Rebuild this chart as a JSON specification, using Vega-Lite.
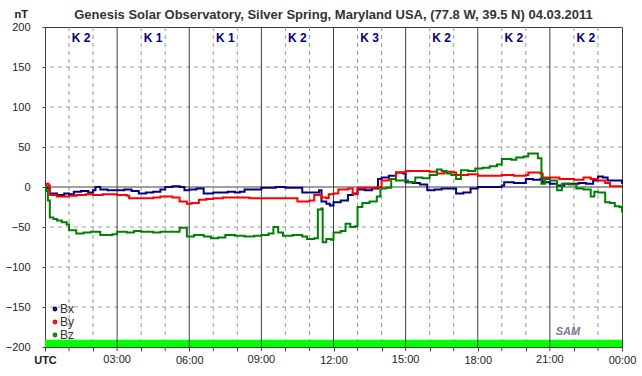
{
  "$schema": "https://vega.github.io/schema/vega-lite/v6.json",
  "width": 577,
  "height": 320,
  "autosize": {"type": "none"},
  "padding": {"left": 45, "top": 27, "right": 20, "bottom": 29},
  "background": "white",
  "config": {
    "font": "Liberation Sans",
    "view": {"stroke": "#404040", "strokeWidth": 1}
  },
  "title": {
    "text": "Genesis Solar Observatory, Silver Spring, Maryland USA, (77.8 W, 39.5 N)  04.03.2011",
    "fontSize": 13,
    "fontWeight": "bold",
    "color": "#333333",
    "anchor": "middle",
    "offset": 0,
    "dy": 14
  },
  "datasets": {
    "series": [
      {"t":0,"c":"Bx","v":0},{"t":0.1,"c":"Bx","v":-2},{"t":0.2,"c":"Bx","v":-8},{"t":0.5,"c":"Bx","v":-10},{"t":0.8,"c":"Bx","v":-8},{"t":1.0,"c":"Bx","v":-9},{"t":1.2,"c":"Bx","v":-6},{"t":1.5,"c":"Bx","v":-5},{"t":1.8,"c":"Bx","v":-7},{"t":2.0,"c":"Bx","v":-4},{"t":2.1,"c":"Bx","v":0},{"t":2.3,"c":"Bx","v":-3},{"t":2.6,"c":"Bx","v":-4},{"t":3.0,"c":"Bx","v":-4},{"t":3.3,"c":"Bx","v":-3},{"t":3.6,"c":"Bx","v":-5},{"t":3.9,"c":"Bx","v":-8},{"t":4.2,"c":"Bx","v":-7},{"t":4.5,"c":"Bx","v":-6},{"t":4.8,"c":"Bx","v":-3},{"t":5.0,"c":"Bx","v":0},{"t":5.3,"c":"Bx","v":1},{"t":5.6,"c":"Bx","v":0},{"t":5.8,"c":"Bx","v":-4},{"t":6.0,"c":"Bx","v":-3},{"t":6.3,"c":"Bx","v":-2},{"t":6.6,"c":"Bx","v":-8},{"t":7.0,"c":"Bx","v":-7},{"t":7.3,"c":"Bx","v":-7},{"t":7.6,"c":"Bx","v":-6},{"t":7.9,"c":"Bx","v":-7},{"t":8.1,"c":"Bx","v":-6},{"t":8.3,"c":"Bx","v":-3},{"t":8.7,"c":"Bx","v":-3},{"t":9.0,"c":"Bx","v":-1},{"t":9.3,"c":"Bx","v":-1},{"t":9.6,"c":"Bx","v":0},{"t":10.0,"c":"Bx","v":-1},{"t":10.4,"c":"Bx","v":-1},{"t":10.7,"c":"Bx","v":-7},{"t":11.0,"c":"Bx","v":-7},{"t":11.2,"c":"Bx","v":-7},{"t":11.4,"c":"Bx","v":-4},{"t":11.5,"c":"Bx","v":-18},{"t":11.7,"c":"Bx","v":-21},{"t":11.85,"c":"Bx","v":-23},{"t":12.0,"c":"Bx","v":-19},{"t":12.3,"c":"Bx","v":-17},{"t":12.6,"c":"Bx","v":-10},{"t":12.8,"c":"Bx","v":-8},{"t":13.0,"c":"Bx","v":-3},{"t":13.3,"c":"Bx","v":-4},{"t":13.6,"c":"Bx","v":-2},{"t":13.85,"c":"Bx","v":10},{"t":14.0,"c":"Bx","v":12},{"t":14.3,"c":"Bx","v":14},{"t":14.6,"c":"Bx","v":18},{"t":14.9,"c":"Bx","v":17},{"t":15.0,"c":"Bx","v":6},{"t":15.3,"c":"Bx","v":5},{"t":15.6,"c":"Bx","v":3},{"t":15.9,"c":"Bx","v":-4},{"t":16.2,"c":"Bx","v":-3},{"t":16.5,"c":"Bx","v":-2},{"t":16.8,"c":"Bx","v":-2},{"t":17.1,"c":"Bx","v":-8},{"t":17.4,"c":"Bx","v":-7},{"t":17.7,"c":"Bx","v":-2},{"t":18.0,"c":"Bx","v":0},{"t":18.5,"c":"Bx","v":0},{"t":19.0,"c":"Bx","v":2},{"t":19.1,"c":"Bx","v":6},{"t":19.5,"c":"Bx","v":5},{"t":20.0,"c":"Bx","v":10},{"t":20.3,"c":"Bx","v":9},{"t":20.6,"c":"Bx","v":10},{"t":20.7,"c":"Bx","v":6},{"t":21.0,"c":"Bx","v":4},{"t":21.3,"c":"Bx","v":2},{"t":21.6,"c":"Bx","v":4},{"t":21.9,"c":"Bx","v":4},{"t":22.2,"c":"Bx","v":5},{"t":22.5,"c":"Bx","v":4},{"t":22.8,"c":"Bx","v":8},{"t":23.0,"c":"Bx","v":13},{"t":23.2,"c":"Bx","v":12},{"t":23.4,"c":"Bx","v":8},{"t":23.7,"c":"Bx","v":8},{"t":24,"c":"Bx","v":4},
      {"t":0,"c":"By","v":0},{"t":0.05,"c":"By","v":4},{"t":0.15,"c":"By","v":2},{"t":0.2,"c":"By","v":-10},{"t":0.5,"c":"By","v":-12},{"t":1.0,"c":"By","v":-11},{"t":1.3,"c":"By","v":-10},{"t":1.7,"c":"By","v":-9},{"t":2.0,"c":"By","v":-10},{"t":2.4,"c":"By","v":-9},{"t":2.8,"c":"By","v":-9},{"t":3.0,"c":"By","v":-10},{"t":3.4,"c":"By","v":-11},{"t":3.5,"c":"By","v":-14},{"t":4.0,"c":"By","v":-14},{"t":4.5,"c":"By","v":-13},{"t":4.8,"c":"By","v":-12},{"t":5.3,"c":"By","v":-13},{"t":5.6,"c":"By","v":-18},{"t":5.9,"c":"By","v":-21},{"t":6.1,"c":"By","v":-20},{"t":6.4,"c":"By","v":-16},{"t":6.7,"c":"By","v":-15},{"t":7.0,"c":"By","v":-14},{"t":7.4,"c":"By","v":-13},{"t":8.0,"c":"By","v":-13},{"t":8.5,"c":"By","v":-14},{"t":9.0,"c":"By","v":-14},{"t":9.5,"c":"By","v":-14},{"t":10.0,"c":"By","v":-14},{"t":10.4,"c":"By","v":-14},{"t":10.5,"c":"By","v":-18},{"t":11.0,"c":"By","v":-17},{"t":11.2,"c":"By","v":-10},{"t":11.5,"c":"By","v":-13},{"t":11.7,"c":"By","v":-14},{"t":11.8,"c":"By","v":-9},{"t":12.0,"c":"By","v":-8},{"t":12.2,"c":"By","v":-3},{"t":12.6,"c":"By","v":-2},{"t":12.8,"c":"By","v":-9},{"t":13.0,"c":"By","v":-1},{"t":13.4,"c":"By","v":-1},{"t":13.8,"c":"By","v":0},{"t":14.0,"c":"By","v":8},{"t":14.3,"c":"By","v":10},{"t":14.6,"c":"By","v":18},{"t":15.0,"c":"By","v":20},{"t":15.5,"c":"By","v":20},{"t":16.0,"c":"By","v":19},{"t":16.3,"c":"By","v":17},{"t":16.6,"c":"By","v":19},{"t":17.0,"c":"By","v":18},{"t":17.1,"c":"By","v":15},{"t":17.6,"c":"By","v":16},{"t":18.0,"c":"By","v":14},{"t":18.5,"c":"By","v":14},{"t":19.0,"c":"By","v":15},{"t":19.5,"c":"By","v":14},{"t":20.0,"c":"By","v":15},{"t":20.1,"c":"By","v":18},{"t":20.6,"c":"By","v":17},{"t":20.7,"c":"By","v":12},{"t":21.0,"c":"By","v":12},{"t":21.4,"c":"By","v":10},{"t":21.6,"c":"By","v":10},{"t":22.0,"c":"By","v":9},{"t":22.4,"c":"By","v":12},{"t":22.7,"c":"By","v":10},{"t":23.0,"c":"By","v":8},{"t":23.3,"c":"By","v":5},{"t":23.5,"c":"By","v":1},{"t":24,"c":"By","v":1},
      {"t":0,"c":"Bz","v":0},{"t":0.05,"c":"Bz","v":-5},{"t":0.12,"c":"Bz","v":-17},{"t":0.2,"c":"Bz","v":-38},{"t":0.35,"c":"Bz","v":-40},{"t":0.5,"c":"Bz","v":-42},{"t":0.7,"c":"Bz","v":-44},{"t":0.9,"c":"Bz","v":-47},{"t":1.0,"c":"Bz","v":-54},{"t":1.3,"c":"Bz","v":-58},{"t":1.6,"c":"Bz","v":-57},{"t":1.9,"c":"Bz","v":-56},{"t":2.3,"c":"Bz","v":-60},{"t":2.8,"c":"Bz","v":-59},{"t":3.0,"c":"Bz","v":-56},{"t":3.4,"c":"Bz","v":-57},{"t":3.7,"c":"Bz","v":-55},{"t":4.0,"c":"Bz","v":-56},{"t":4.5,"c":"Bz","v":-57},{"t":4.8,"c":"Bz","v":-56},{"t":5.2,"c":"Bz","v":-56},{"t":5.6,"c":"Bz","v":-51},{"t":5.9,"c":"Bz","v":-62},{"t":6.2,"c":"Bz","v":-60},{"t":6.6,"c":"Bz","v":-62},{"t":6.9,"c":"Bz","v":-64},{"t":7.2,"c":"Bz","v":-63},{"t":7.5,"c":"Bz","v":-60},{"t":7.9,"c":"Bz","v":-61},{"t":8.3,"c":"Bz","v":-62},{"t":8.7,"c":"Bz","v":-61},{"t":9.0,"c":"Bz","v":-60},{"t":9.3,"c":"Bz","v":-58},{"t":9.5,"c":"Bz","v":-50},{"t":9.7,"c":"Bz","v":-57},{"t":9.9,"c":"Bz","v":-61},{"t":10.3,"c":"Bz","v":-60},{"t":10.7,"c":"Bz","v":-62},{"t":10.9,"c":"Bz","v":-65},{"t":11.2,"c":"Bz","v":-64},{"t":11.35,"c":"Bz","v":-28},{"t":11.5,"c":"Bz","v":-27},{"t":11.55,"c":"Bz","v":-69},{"t":11.7,"c":"Bz","v":-65},{"t":11.9,"c":"Bz","v":-66},{"t":12.0,"c":"Bz","v":-57},{"t":12.3,"c":"Bz","v":-55},{"t":12.5,"c":"Bz","v":-46},{"t":12.7,"c":"Bz","v":-50},{"t":12.9,"c":"Bz","v":-49},{"t":13.0,"c":"Bz","v":-25},{"t":13.2,"c":"Bz","v":-20},{"t":13.5,"c":"Bz","v":-18},{"t":13.8,"c":"Bz","v":-12},{"t":13.95,"c":"Bz","v":-2},{"t":14.2,"c":"Bz","v":-1},{"t":14.4,"c":"Bz","v":10},{"t":14.6,"c":"Bz","v":8},{"t":14.9,"c":"Bz","v":8},{"t":15.1,"c":"Bz","v":6},{"t":15.4,"c":"Bz","v":12},{"t":15.7,"c":"Bz","v":11},{"t":16.0,"c":"Bz","v":15},{"t":16.3,"c":"Bz","v":22},{"t":16.5,"c":"Bz","v":20},{"t":16.7,"c":"Bz","v":17},{"t":16.9,"c":"Bz","v":15},{"t":17.1,"c":"Bz","v":10},{"t":17.3,"c":"Bz","v":21},{"t":17.6,"c":"Bz","v":20},{"t":17.9,"c":"Bz","v":23},{"t":18.2,"c":"Bz","v":24},{"t":18.5,"c":"Bz","v":26},{"t":18.8,"c":"Bz","v":28},{"t":19.0,"c":"Bz","v":35},{"t":19.4,"c":"Bz","v":34},{"t":19.6,"c":"Bz","v":37},{"t":19.9,"c":"Bz","v":38},{"t":20.1,"c":"Bz","v":42},{"t":20.3,"c":"Bz","v":42},{"t":20.5,"c":"Bz","v":36},{"t":20.65,"c":"Bz","v":4},{"t":20.8,"c":"Bz","v":10},{"t":21.0,"c":"Bz","v":8},{"t":21.3,"c":"Bz","v":-4},{"t":21.5,"c":"Bz","v":4},{"t":21.8,"c":"Bz","v":3},{"t":22.1,"c":"Bz","v":-2},{"t":22.4,"c":"Bz","v":-3},{"t":22.7,"c":"Bz","v":-12},{"t":22.85,"c":"Bz","v":-6},{"t":23.0,"c":"Bz","v":-7},{"t":23.3,"c":"Bz","v":-19},{"t":23.5,"c":"Bz","v":-20},{"t":23.7,"c":"Bz","v":-24},{"t":23.9,"c":"Bz","v":-25},{"t":24,"c":"Bz","v":-32}
    ]
  },
  "layer": [
    {
      "data": {"values": [{"t":1},{"t":2},{"t":4},{"t":5},{"t":7},{"t":8},{"t":10},{"t":11},{"t":13},{"t":14},{"t":16},{"t":17},{"t":19},{"t":20},{"t":22},{"t":23}]},
      "mark": {"type": "rule", "color": "#999999", "strokeDash": [4, 4], "strokeWidth": 1},
      "encoding": {
        "x": {
          "field": "t", "type": "quantitative",
          "scale": {"domain": [0, 24], "nice": false},
          "axis": {
            "labelExpr": "datum.value == 0 ? 'UTC' : (datum.value % 3 != 0 ? '' : (datum.value == 24 ? '00:00' : (datum.value < 10 ? '0' : '') + datum.value + ':00'))",
            "labelFontWeight": {"condition": {"test": "datum.value == 0", "value": "bold"}, "value": "normal"},
            "labelFontSize": 11,
            "labelColor": "#222222",
            "labelPadding": 3,
            "labelOverlap": false,
            "labelFlush": false,
            "tickSize": 4,
            "tickColor": "#404040",
            "domain": false,
            "grid": false,
            "title": null
          }
        }
      }
    },
    {
      "data": {"values": [{"v":-150},{"v":-100},{"v":-50},{"v":50},{"v":100},{"v":150}]},
      "mark": {"type": "rule", "color": "#999999", "strokeDash": [4, 4], "strokeWidth": 1},
      "encoding": {
        "y": {
          "field": "v", "type": "quantitative",
          "scale": {"domain": [-200, 200], "nice": false},
          "axis": {
            "labelFontSize": 11,
            "labelColor": "#222222",
            "labelPadding": 12,
            "labelOverlap": false,
            "tickSize": 3,
            "tickColor": "#404040",
            "domain": false,
            "grid": false,
            "title": "nT",
            "titleAngle": 0,
            "titleFontWeight": "bold",
            "titleFontSize": 11,
            "titleColor": "#222222",
            "titleAlign": "left",
            "titleBaseline": "alphabetic",
            "titleX": -31,
            "titleY": -10
          }
        }
      }
    },
    {
      "data": {"values": [{"t": 0, "t2": 24, "v": -200, "v2": -191}]},
      "mark": {"type": "rect", "color": "#00ff00"},
      "encoding": {
        "x": {"field": "t", "type": "quantitative"},
        "x2": {"field": "t2"},
        "y": {"field": "v", "type": "quantitative"},
        "y2": {"field": "v2"}
      }
    },
    {
      "data": {"values": [{"t":3},{"t":6},{"t":9},{"t":12},{"t":15},{"t":18},{"t":21}]},
      "mark": {"type": "rule", "color": "#404040", "strokeWidth": 1},
      "encoding": {"x": {"field": "t", "type": "quantitative"}}
    },
    {
      "data": {"values": [{"v":0}]},
      "mark": {"type": "rule", "color": "#404040", "strokeWidth": 1},
      "encoding": {"y": {"field": "v", "type": "quantitative"}}
    },
    {
      "data": {"values": [{"t":1},{"t":3},{"t":5},{"t":7},{"t":9},{"t":11},{"t":13},{"t":15},{"t":17},{"t":19},{"t":21},{"t":23}]},
      "mark": {"type": "rule", "color": "#404040", "strokeWidth": 1, "clip": false},
      "encoding": {
        "x": {"field": "t", "type": "quantitative"},
        "y": {"datum": -200, "type": "quantitative"},
        "y2": {"datum": -205}
      }
    },
    {
      "data": {"values": [{"t":3,"s":"03:00"},{"t":9,"s":"09:00"},{"t":15,"s":"15:00"},{"t":21,"s":"21:00"}]},
      "mark": {"type": "text", "fontSize": 11, "color": "#222222", "baseline": "top", "align": "center"},
      "encoding": {
        "x": {"field": "t", "type": "quantitative"},
        "y": {"datum": -208.75, "type": "quantitative"},
        "text": {"field": "s"}
      }
    },
    {
      "data": {"name": "series"},
      "mark": {"type": "line", "strokeWidth": 2, "interpolate": "step-after"},
      "encoding": {
        "x": {"field": "t", "type": "quantitative"},
        "y": {"field": "v", "type": "quantitative"},
        "color": {
          "field": "c", "type": "nominal",
          "scale": {"domain": ["Bx", "By", "Bz"], "range": ["#000080", "#ff0000", "#008000"]},
          "legend": {
            "orient": "none",
            "legendX": 4,
            "legendY": 276,
            "title": null,
            "symbolType": "circle",
            "symbolSize": 8,
            "symbolStrokeWidth": 2,
            "labelFontSize": 12,
            "labelColor": "#333333",
            "labelOffset": -1,
            "rowPadding": 1,
            "padding": 0
          }
        }
      }
    },
    {
      "data": {"values": [{"t":1.5,"k":"K 2"},{"t":4.5,"k":"K 1"},{"t":7.5,"k":"K 1"},{"t":10.5,"k":"K 2"},{"t":13.5,"k":"K 3"},{"t":16.5,"k":"K 2"},{"t":19.5,"k":"K 2"},{"t":22.5,"k":"K 2"}]},
      "mark": {"type": "text", "color": "#000080", "fontWeight": "bold", "fontSize": 12, "baseline": "middle"},
      "encoding": {
        "x": {"field": "t", "type": "quantitative"},
        "y": {"datum": 186, "type": "quantitative"},
        "text": {"field": "k"}
      }
    },
    {
      "data": {"values": [{"t": 21.75, "v": -181, "s": "SAM"}]},
      "mark": {"type": "text", "color": "#7a7a9a", "fontStyle": "italic", "fontWeight": "bold", "fontSize": 11, "baseline": "middle"},
      "encoding": {
        "x": {"field": "t", "type": "quantitative"},
        "y": {"field": "v", "type": "quantitative"},
        "text": {"field": "s"}
      }
    }
  ]
}
